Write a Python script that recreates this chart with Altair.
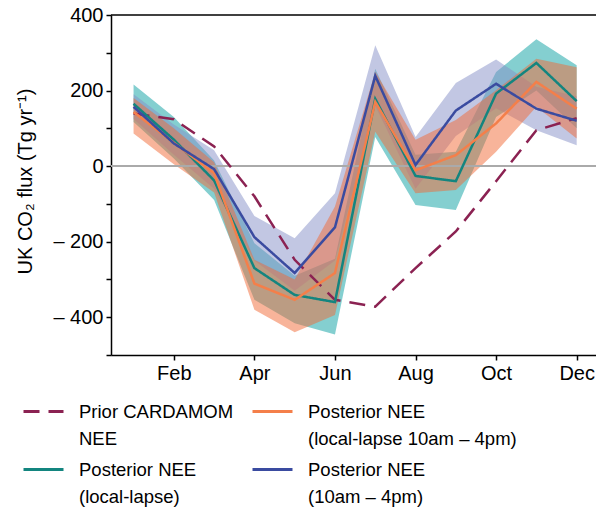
import altair as alt
import pandas as pd

month_nums = list(range(1, 13))
month_labels = ["Jan", "Feb", "Mar", "Apr", "May", "Jun", "Jul", "Aug", "Sep", "Oct", "Nov", "Dec"]
tick_months = [2, 4, 6, 8, 10, 12]
y_ticks = [-500, -400, -300, -200, -100, 0, 100, 200, 300, 400]

series_names = [
    "Prior CARDAMOM|NEE",
    "Posterior NEE|(local-lapse)",
    "Posterior NEE|(local-lapse 10am – 4pm)",
    "Posterior NEE|(10am – 4pm)",
]
line_colors = ["#8b2252", "#13857f", "#f47f4a", "#3a4ba0"]
band_colors = ["#0aa0a2", "#858fc7", "#f16935"]

prior = [139, 124, 52, -80, -248, -354, -372, -270, -173, -40, 95, 127]
ll = [165, 70, -38, -270, -341, -360, 178, -26, -40, 192, 273, 172]
ll_lo = [117, 20, -90, -354, -416, -446, 77, -103, -116, 130, 200, 100]
ll_hi = [216, 130, 15, -204, -290, -245, 258, 30, 38, 249, 336, 267]
llday = [143, 62, -19, -311, -354, -283, 170, -11, 29, 113, 223, 152]
llday_lo = [86, 5, -70, -380, -440, -394, 91, -72, -63, 38, 157, 73]
llday_hi = [180, 100, 10, -248, -300, -107, 250, 70, 122, 201, 284, 262]
day = [157, 60, -8, -188, -283, -162, 239, 3, 147, 218, 152, 120]
day_lo = [125, 30, -60, -250, -330, -250, 160, -60, 80, 153, 95, 55]
day_hi = [190, 110, 42, -132, -191, -72, 320, 77, 220, 282, 210, 185]

rows = []
for name, vals in zip(series_names, [prior, ll, llday, day]):
    for m, v in zip(month_nums, vals):
        rows.append({"month": m, "value": v, "series": name})
lines_df = pd.DataFrame(rows)

band_sets = [(ll_lo, ll_hi), (day_lo, day_hi), (llday_lo, llday_hi)]

x_scale = alt.Scale(domain=[0.44, 12.48], nice=False, zero=False)
y_scale = alt.Scale(domain=[-500, 400], nice=False, zero=False)

label_expr_x = "['', " + ", ".join("'" + m + "'" for m in month_labels) + "][datum.value]"

x_axis = alt.Axis(values=tick_months, labelExpr=label_expr_x, title=None, grid=False,
                  tickSize=5, tickWidth=1.5, tickColor="black", domainColor="black",
                  domainWidth=1.5, labelFontSize=20, labelColor="black", labelPadding=3,
                  labelOverlap=False)
y_axis = alt.Axis(values=y_ticks,
                  labelExpr="datum.value % 200 == 0 ? (datum.value < 0 ? '– ' + abs(datum.value) : '' + datum.value) : ''",
                  title="UK CO₂ flux (Tg yr⁻¹)", grid=False, tickSize=5, tickWidth=1.5,
                  tickColor="black", domainColor="black", domainWidth=1.5,
                  labelFontSize=20, labelColor="black", labelPadding=3, labelOverlap=False,
                  titleFontSize=20, titleFontWeight="normal", titleColor="black",
                  titleX=-86, titleY=166, titleAngle=-90, titleAlign="center",
                  titleBaseline="middle")

layers = []
for (lo, hi), col in zip(band_sets, band_colors):
    bdf = pd.DataFrame({"month": month_nums, "lo": lo, "hi": hi})
    layers.append(
        alt.Chart(bdf).mark_area(opacity=0.5, color=col).encode(
            x=alt.X("month:Q", scale=x_scale, axis=x_axis),
            y=alt.Y("lo:Q", scale=y_scale, axis=y_axis),
            y2="hi:Q",
        )
    )

zero_df = pd.DataFrame({"y": [0]})
layers.append(alt.Chart(zero_df).mark_rule(color="#aaaaaa", strokeWidth=2).encode(y=alt.Y("y:Q", scale=y_scale, axis=y_axis)))
top_df = pd.DataFrame({"y": [400]})
layers.append(alt.Chart(top_df).mark_rule(color="black", strokeWidth=1.5).encode(y=alt.Y("y:Q", scale=y_scale, axis=y_axis)))

legend = alt.Legend(title=None, orient="none", legendX=-89, legendY=375, columns=2,
                    gridAlign="each",
                    symbolType="stroke", symbolSize=1600, symbolStrokeWidth=3,
                    labelFontSize=18.5, labelColor="black", labelLimit=400, labelOffset=14,
                    labelBaseline="middle", labelExpr="split(datum.label, '|')",
                    columnPadding=12, rowPadding=-11)

layers.append(
    alt.Chart(lines_df).mark_line(strokeWidth=2.5).encode(
        x=alt.X("month:Q", scale=x_scale, axis=x_axis),
        y=alt.Y("value:Q", scale=y_scale, axis=y_axis),
        color=alt.Color("series:N", scale=alt.Scale(domain=series_names, range=line_colors), legend=legend),
        strokeDash=alt.StrokeDash("series:N", scale=alt.Scale(domain=series_names, range=[[16, 9], [1, 0], [1, 0], [1, 0]]), legend=legend),
    )
)

chart = alt.layer(*layers).properties(
    width=485, height=340,
    autosize=alt.AutoSizeParams(type="none"),
    padding={"left": 111, "top": 15, "right": 0, "bottom": 164},
).configure(font="Liberation Sans", style={"guide-label": {"lineHeight": 27}}).configure_view(strokeWidth=0)

chart.save("out.html", embed_options={"renderer": "svg", "actions": False})
